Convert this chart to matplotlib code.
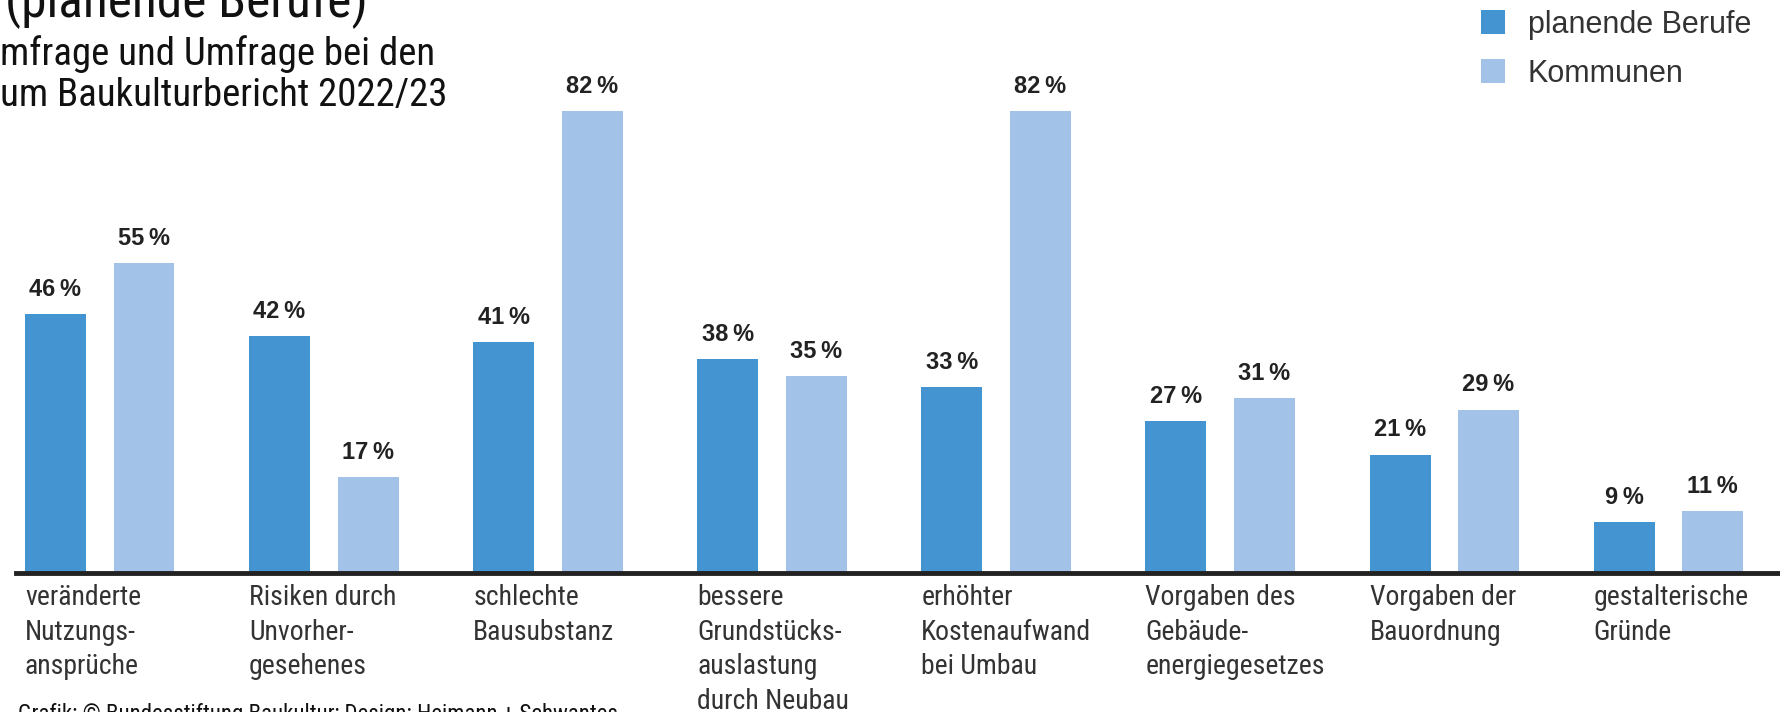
import matplotlib
matplotlib.use("Agg")
import matplotlib.pyplot as plt
import numpy as np

# data
categories = [
    "veränderte\nNutzungs-\nansprüche",
    "Risiken durch\nUnvorher-\ngesehenes",
    "schlechte\nBausubstanz",
    "bessere\nGrundstücks-\nauslastung\ndurch Neubau",
    "erhöhter\nKostenaufwand\nbei Umbau",
    "Vorgaben des\nGebäude-\nenergiegesetzes",
    "Vorgaben der\nBauordnung",
    "gestalterische\nGründe",
]
planende = [46, 42, 41, 38, 33, 27, 21, 9]
kommunen = [55, 17, 82, 35, 82, 31, 29, 11]
series_names = ["planende Berufe", "Kommunen"]

title_text = "(planende Berufe)"
subtitle_lines = ["mfrage und Umfrage bei den", "um Baukulturbericht 2022/23"]
footer_text = "Grafik: © Bundesstiftung Baukultur; Design: Heimann + Schwantes"

c_dark = "#4494d1"
c_light = "#a2c2e7"

W, H = 1780, 712
fig = plt.figure(figsize=(W / 100, H / 100), dpi=100)
ax = fig.add_axes([0, 139 / H, 1, 1 - 139 / H])

x = np.arange(len(categories))
w = 0.272
d = 0.1975
b1 = ax.bar(x - d, planende, w, color=c_dark, label=series_names[0])
b2 = ax.bar(x + d, kommunen, w, color=c_light, label=series_names[1])

ax.set_xlim(-0.445, 7.498)
ax.set_ylim(0, (H - 139) / 5.634)
ax.axis("off")
ax.axhline(0, xmin=16 / W, xmax=1, color="#222222", lw=3.5, clip_on=False)

narrow = ["Roboto Condensed", "Liberation Sans Narrow", "Liberation Sans"]
for bars, vals in [(b1, planende), (b2, kommunen)]:
    for r, v in zip(bars, vals):
        ax.text(r.get_x() + r.get_width() / 2, v + 4.4, f"{v}\u202f%",
                ha="center", va="center", fontsize=17, fontweight="bold",
                color="#222222", family=["Liberation Sans", "DejaVu Sans"])

for xi, cat in zip(x, categories):
    ax.text(xi - d - w / 2, -2.0, cat, ha="left", va="top", fontsize=20,
            linespacing=1.36, color="#333333", family=narrow, clip_on=False)

leg = ax.legend(handles=[b1, b2], loc="upper left", frameon=False,
                bbox_to_anchor=(1453 / W, 1.025), bbox_transform=fig.transFigure,
                prop={"family": "Liberation Sans", "size": 22},
                handlelength=0.8, handleheight=0.8,
                handletextpad=0.75, labelspacing=0.62)
for t in leg.get_texts():
    t.set_color("#333333")

fig.text(5 / W, 1 - 2 / H, title_text, ha="left", va="center", fontsize=37,
         family=narrow, color="#111111")
fig.text(0, 1 - 54 / H, subtitle_lines[0], ha="left", va="center",
         fontsize=28, family=narrow, color="#111111")
fig.text(0, 1 - 95 / H, subtitle_lines[1], ha="left", va="center",
         fontsize=28, family=narrow, color="#111111")
fig.text(18 / W, -2 / H, footer_text, ha="left", va="center", fontsize=16.5,
         family=narrow, color="#111111")

fig.savefig("out.png", dpi=100)
